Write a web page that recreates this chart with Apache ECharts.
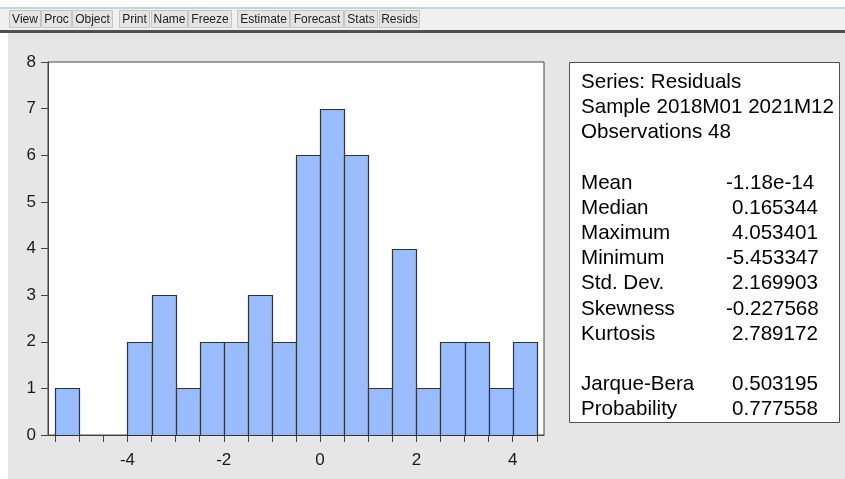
<!DOCTYPE html>
<html><head><meta charset="utf-8">
<script src="https://cdn.jsdelivr.net/npm/echarts@6/dist/echarts.min.js"></script>
<style>html,body{margin:0;padding:0;background:#fff}#c{width:845px;height:479px}</style>
</head><body><div id="c"></div>
<script>
// ---- data ----
const binStarts = [-5.5, -5, -4.5, -4, -3.5, -3, -2.5, -2, -1.5, -1, -0.5, 0, 0.5, 1, 1.5, 2, 2.5, 3, 3.5, 4];
const binEnds   = [-5, -4.5, -4, -3.5, -3, -2.5, -2, -1.5, -1, -0.5, 0, 0.5, 1, 1.5, 2, 2.5, 3, 3.5, 4, 4.5];
const counts    = [1, 0, 0, 2, 3, 1, 2, 2, 3, 2, 6, 7, 6, 1, 4, 1, 2, 2, 1, 2];
const yTicks = [0, 1, 2, 3, 4, 5, 6, 7, 8];
const xTickValues = [-5.5, -5, -4.5, -4, -3.5, -3, -2.5, -2, -1.5, -1, -0.5, 0, 0.5, 1, 1.5, 2, 2.5, 3, 3.5, 4, 4.5];
const xLabelValues = [-4, -2, 0, 2, 4];
const headerLines = ['Series: Residuals', 'Sample 2018M01 2021M12', 'Observations 48'];
const statLabels = ['Mean', 'Median', 'Maximum', 'Minimum', 'Std. Dev.', 'Skewness', 'Kurtosis'];
const statValues = ['-1.18e-14', '0.165344', '4.053401', '-5.453347', '2.169903', '-0.227568', '2.789172'];
const testLabels = ['Jarque-Bera', 'Probability'];
const testValues = ['0.503195', '0.777558'];
const toolbarButtons = ['View', 'Proc', 'Object', 'Print', 'Name', 'Freeze', 'Estimate', 'Forecast', 'Stats', 'Resids'];

// ---- layout (not data) ----
const btnLeft  = [9, 41, 72, 119, 151, 188, 237, 290, 344, 379];
const btnRight = [40, 71, 112, 149, 187, 231, 289, 343, 377, 419];
const FONT = "'Liberation Sans', Arial, sans-serif";
const STAT_FS = 20.6;

const graphics = [];
graphics.push({type: 'rect', z: -10, shape: {x: 0, y: 0, width: 845, height: 33}, style: {fill: '#ffffff'}});
graphics.push({type: 'rect', z: -10, shape: {x: 0, y: 0, width: 8, height: 479}, style: {fill: '#ffffff'}});
graphics.push({type: 'rect', z: -9, shape: {x: 0, y: 7, width: 845, height: 2}, style: {fill: '#c3d3e3'}});
graphics.push({type: 'rect', z: -9, shape: {x: 0, y: 9, width: 845, height: 21}, style: {fill: '#f0f0f0'}});
graphics.push({type: 'rect', z: -9, shape: {x: 0, y: 30, width: 845, height: 3}, style: {fill: '#505050'}});
toolbarButtons.forEach((t, i) => {
  graphics.push({type: 'rect', z: -8, shape: {x: btnLeft[i] + 0.5, y: 10.5, width: btnRight[i] - btnLeft[i], height: 17},
    style: {fill: '#e4e4e4', stroke: '#c4c4c4', lineWidth: 1}});
  graphics.push({type: 'text', z: -7, x: (btnLeft[i] + btnRight[i]) / 2 + 0.5, y: 19.5,
    style: {text: t, fontSize: 12, fontFamily: FONT, fill: '#222', align: 'center', verticalAlign: 'middle'}});
});
// stats box
graphics.push({type: 'rect', shape: {x: 569.5, y: 62.5, width: 270, height: 360}, style: {fill: '#ffffff', stroke: '#505050', lineWidth: 1}});
const rowY = i => 82.5 + 25.15 * i;
headerLines.forEach((t, i) => {
  graphics.push({type: 'text', x: 581, y: rowY(i), style: {text: t, fontSize: STAT_FS, fontFamily: FONT, fill: '#000', verticalAlign: 'middle'}});
});
const addPair = (lab, val, row) => {
  graphics.push({type: 'text', x: 581, y: rowY(row), style: {text: lab, fontSize: STAT_FS, fontFamily: FONT, fill: '#000', verticalAlign: 'middle'}});
  const vx = val.charAt(0) === '-' ? 726 : 732;
  graphics.push({type: 'text', x: vx, y: rowY(row), style: {text: val, fontSize: STAT_FS, fontFamily: FONT, fill: '#000', verticalAlign: 'middle'}});
};
statLabels.forEach((l, i) => addPair(l, statValues[i], 4 + i));
testLabels.forEach((l, i) => addPair(l, testValues[i], 12 + i));

const histData = binStarts.map((s, i) => [s, binEnds[i], counts[i]]);

const chart = echarts.init(document.getElementById('c'), null, {renderer: 'canvas'});
chart.setOption({
  animation: false,
  backgroundColor: '#e6e6e6',
  grid: {left: 48, top: 62, width: 496, height: 373, show: true, backgroundColor: '#ffffff', borderColor: '#444', borderWidth: 1},
  xAxis: {
    type: 'value', min: -5.65, max: 4.65,
    axisLine: {show: true, onZero: false, lineStyle: {color: '#444', width: 1}},
    axisTick: {show: true, inside: false, length: 7, customValues: xTickValues, lineStyle: {color: '#444'}},
    axisLabel: {customValues: xLabelValues, fontSize: 17, fontFamily: FONT, color: '#1a1a1a', margin: 17},
    splitLine: {show: false}
  },
  yAxis: {
    type: 'value', min: yTicks[0], max: yTicks[yTicks.length - 1], interval: 1,
    axisLine: {show: true, onZero: false, lineStyle: {color: '#444', width: 1}},
    axisTick: {show: true, inside: false, length: 7, lineStyle: {color: '#444'}},
    axisLabel: {fontSize: 17, fontFamily: FONT, color: '#1a1a1a', margin: 12},
    splitLine: {show: false}
  },
  graphic: {elements: graphics},
  series: [{
    type: 'custom',
    data: histData,
    encode: {x: [0, 1], y: 2},
    renderItem: function (params, api) {
      if (api.value(2) === 0) return null;
      const p0 = api.coord([api.value(0), api.value(2)]);
      const p1 = api.coord([api.value(1), 0]);
      const x0 = Math.round(p0[0]) + 0.5, x1 = Math.round(p1[0]) + 0.5;
      const yt = Math.round(p0[1]) + 0.5, yb = Math.round(p1[1]) + 0.5;
      return {type: 'rect', shape: {x: x0, y: yt, width: x1 - x0, height: yb - yt},
        style: {fill: '#99bbff', stroke: '#333333', lineWidth: 1.2}};
    }
  }]
});
</script></body></html>
